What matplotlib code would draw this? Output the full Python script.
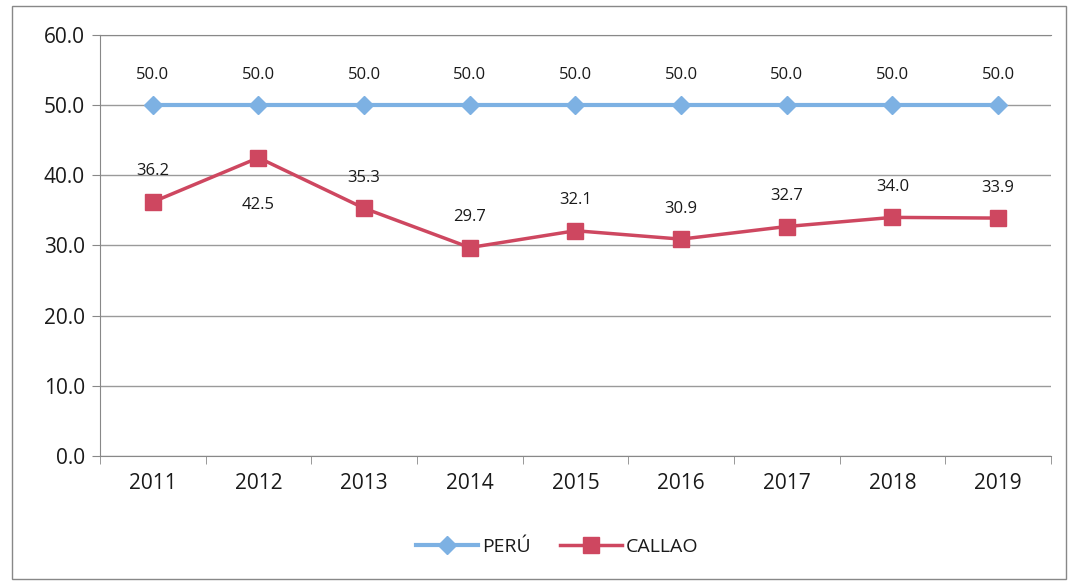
import matplotlib.pyplot as plt
from matplotlib.ticker import FormatStrFormatter
from matplotlib.patches import Rectangle

plt.rcParams['font.family'] = ['Open Sans', 'DejaVu Sans']

# Datos
anios = ['2011', '2012', '2013', '2014', '2015', '2016', '2017', '2018', '2019']
peru = [50.0, 50.0, 50.0, 50.0, 50.0, 50.0, 50.0, 50.0, 50.0]
callao = [36.2, 42.5, 35.3, 29.7, 32.1, 30.9, 32.7, 34.0, 33.9]
y_ticks = [0, 10, 20, 30, 40, 50, 60]

azul = '#7DB1E3'
rojo = '#CE4760'

fig = plt.figure(figsize=(10.72, 5.82), dpi=100)
ax = fig.add_axes([0.0933, 0.2165, 0.887, 0.7235])

x = list(range(len(anios)))
ax.plot(x, peru, color=azul, lw=3, marker='D', ms=9, mfc=azul, mec=azul, label='PERÚ', zorder=3)
ax.plot(x, callao, color=rojo, lw=2.5, marker='s', ms=12, mfc=rojo, mec=rojo, label='CALLAO', zorder=3)

# Etiquetas de datos
for i, v in enumerate(peru):
    ax.annotate(f'{v:.1f}', (i, v), xytext=(0, 22), textcoords='offset points',
                ha='center', va='center', fontsize=12, color='#1a1a1a')
for i, v in enumerate(callao):
    dy = -34 if i == 1 else 22
    ax.annotate(f'{v:.1f}', (i, v), xytext=(0, dy), textcoords='offset points',
                ha='center', va='center', fontsize=12, color='#1a1a1a')

ax.set_xlim(-0.5, len(anios) - 0.5)
ax.set_ylim(0, 60)
ax.set_yticks(y_ticks)
ax.yaxis.set_major_formatter(FormatStrFormatter('%.1f'))
ax.set_xticks(x)
ax.set_xticklabels(anios)
ax.set_xticks([i + 0.5 for i in range(-1, len(anios))], minor=True)
ax.tick_params(axis='x', which='major', length=0, pad=12, labelsize=15, labelcolor='#1a1a1a')
ax.tick_params(axis='x', which='minor', length=6, color='#888888', direction='out')
ax.tick_params(axis='y', length=6, color='#888888', pad=5, labelsize=15, labelcolor='#1a1a1a')
ax.grid(axis='y', color='#9a9a9a', lw=1)
ax.set_axisbelow(True)
for s in ['left', 'top', 'bottom']:
    ax.spines[s].set_color('#888888')
ax.spines['right'].set_visible(False)

fig.legend(loc='center', bbox_to_anchor=(0.52, 0.06), ncol=2, frameon=False,
           fontsize=14, handlelength=3.2, columnspacing=1.5, handletextpad=0.2,
           labelcolor='#1a1a1a')

fig.patches.append(Rectangle((0.011, 0.005), 0.983, 0.985, transform=fig.transFigure,
                             fill=False, edgecolor='#888888', lw=1))

fig.savefig('out.png', dpi=100)
